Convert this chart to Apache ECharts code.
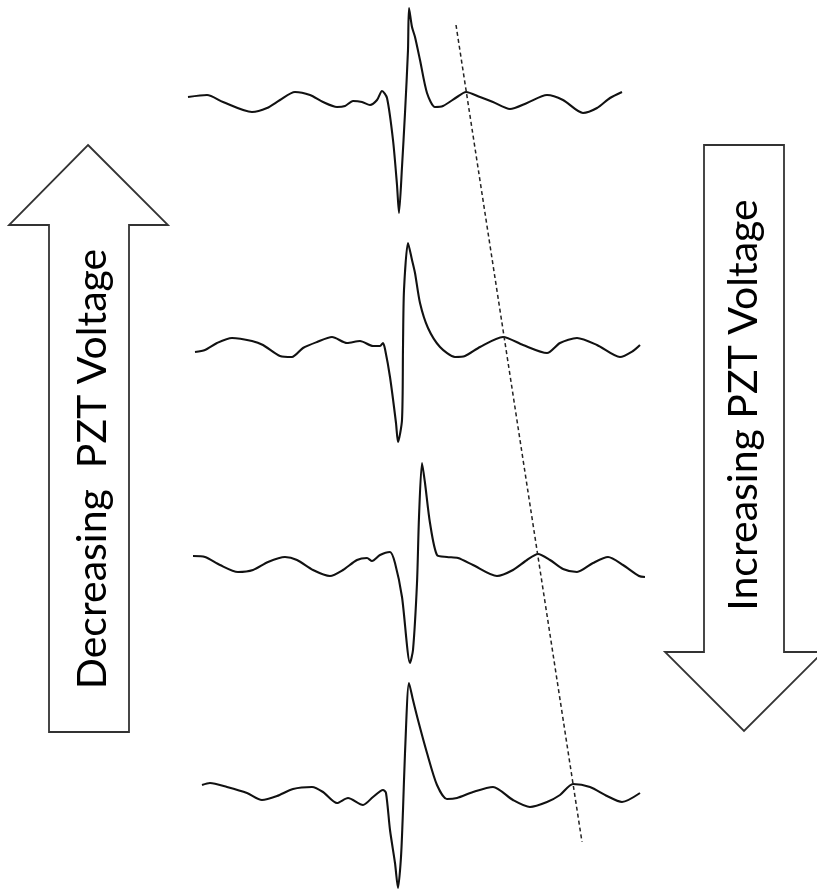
<!DOCTYPE html>
<html>
<head>
<meta charset="utf-8">
<script src="https://cdn.jsdelivr.net/npm/echarts@6/dist/echarts.min.js"></script>
<style>
html,body{margin:0;padding:0;background:#fff;}
#chart{width:817px;height:892px;}
</style>
</head>
<body>
<div id="chart"></div>
<script>
// time (arbitrary units) and amplitude (arbitrary units)
const trace1 = [[0.8,3],[2.7,5],[4.3,-2],[7.2,-12],[8.7,-8],[10.0,0],[11.5,8],[13.0,5],[14.3,-2],[15.7,-7],[16.5,-6],[17.3,-1],[18.2,-2],[19.0,-5],[19.7,0],[20.2,9],[20.7,2],[21.3,-40],[21.7,-85],[21.9,-113],[22.2,-67],[22.5,-13],[22.8,50],[22.9,92],[23.2,73],[23.5,63],[24.0,40],[24.7,7],[25.5,-7],[26.3,-6],[27.7,3],[28.6,8],[30.0,3],[31.3,-2],[33.0,-9],[34.7,-3],[36.7,5],[38.3,0],[40.3,-13],[41.7,-8],[43.0,2],[44.2,8]];
const trace2 = [[1.5,-5],[2.5,-3],[3.7,4],[5.2,9],[7.2,6],[8.3,2],[10.0,-9],[11.2,-10],[12.3,-1],[13.7,5],[15.2,10],[16.7,4],[18.0,6],[19.3,1],[20.0,1],[20.3,4],[20.5,-2],[21.0,-30],[21.6,-76],[21.8,-95],[22.2,-73],[22.3,0],[22.4,57],[22.8,104],[23.2,87],[23.5,74],[24.0,44],[24.8,19],[26.0,0],[27.5,-10],[28.5,-9],[30.0,0],[32.3,10],[34.3,2],[36.7,-6],[38.0,4],[39.7,9],[41.7,2],[44.0,-10],[45.3,-4],[46.0,2]];
const trace3 = [[1.3,7],[2.5,6],[4.0,-2],[5.8,-9],[7.3,-7],[8.8,1],[10.5,6],[11.7,3],[13.3,-7],[15.0,-13],[16.3,-7],[17.7,3],[18.7,5],[19.2,2],[20.0,8],[21.0,11],[21.5,0],[22.2,-34],[23.0,-100],[23.3,-87],[23.7,-20],[23.9,46],[24.2,100],[24.5,80],[25.0,40],[25.7,8],[26.7,6],[27.8,5],[29.3,-2],[31.7,-13],[33.3,-7],[34.7,3],[35.8,9],[37.0,3],[38.3,-6],[39.7,-9],[41.3,0],[42.8,6],[44.3,-2],[45.9,-13],[46.5,-14]];
const trace4 = [[2.2,7],[3.0,9],[4.7,5],[6.7,-1],[8.2,-8],[9.7,-4],[11.3,3],[13.2,5],[14.3,0],[15.7,-11],[16.8,-6],[18.3,-13],[19.3,-5],[20.3,2],[20.6,-1],[21.0,-38],[21.5,-71],[21.8,-96],[22.1,-65],[22.3,-18],[22.5,39],[22.9,109],[23.3,92],[23.8,72],[24.7,39],[25.7,7],[26.7,-7],[27.7,-6],[29.3,0],[31.3,5],[33.3,-8],[35.0,-15],[36.7,-10],[38.0,-3],[39.3,8],[41.0,5],[42.7,-4],[44.2,-10],[46.0,-1]];
// guide line through the shifting secondary peak (time, stacked level)
const guideT = [27.6, 40.2];
const guideY = [867, 50];
const labels = ['Decreasing  PZT Voltage', 'Increasing PZT Voltage'];

// layout: vertical stacking offsets for the traces
const offsets = [792, 545, 329, 100];
const traces = [trace1, trace2, trace3, trace4];

const chart = echarts.init(document.getElementById('chart'), null, {renderer: 'canvas'});

const series = traces.map((tr, i) => ({
  type: 'line',
  data: tr.map(p => [p[0], p[1] + offsets[i]]),
  showSymbol: false,
  smooth: 0.25,
  lineStyle: {color: '#111', width: 2.1},
  silent: true,
  animation: false
}));
series.push({
  type: 'line',
  data: guideT.map((t, i) => [t, guideY[i]]),
  showSymbol: false,
  lineStyle: {color: '#222', width: 1.5, type: [4, 3]},
  silent: true,
  animation: false
});

const font = '41px Lato';
chart.setOption({
  backgroundColor: '#ffffff',
  animation: false,
  grid: {left: 0, right: 0, top: 0, bottom: 0},
  xAxis: {type: 'value', min: -18, max: 63.7, show: false},
  yAxis: {type: 'value', min: 0, max: 892, show: false},
  series: series,
  graphic: [
    {type: 'polygon', shape: {points: [[88,145],[168,225],[129,225],[129,732],[49,732],[49,225],[9,225]]},
     style: {fill: '#fff', stroke: '#333', lineWidth: 1.8}},
    {type: 'polygon', shape: {points: [[704,145],[784,145],[784,652],[823,652],[744,731],[665,652],[704,652]]},
     style: {fill: '#fff', stroke: '#333', lineWidth: 1.8}},
    {type: 'text', x: 93, y: 469, rotation: Math.PI/2,
     style: {text: labels[0], font: font, fill: '#000', align: 'center', verticalAlign: 'middle', textAlign: 'center', textVerticalAlign: 'middle'}},
    {type: 'text', x: 744, y: 405, rotation: Math.PI/2,
     style: {text: labels[1], font: font, fill: '#000', align: 'center', verticalAlign: 'middle', textAlign: 'center', textVerticalAlign: 'middle'}}
  ]
});
</script>
</body>
</html>
